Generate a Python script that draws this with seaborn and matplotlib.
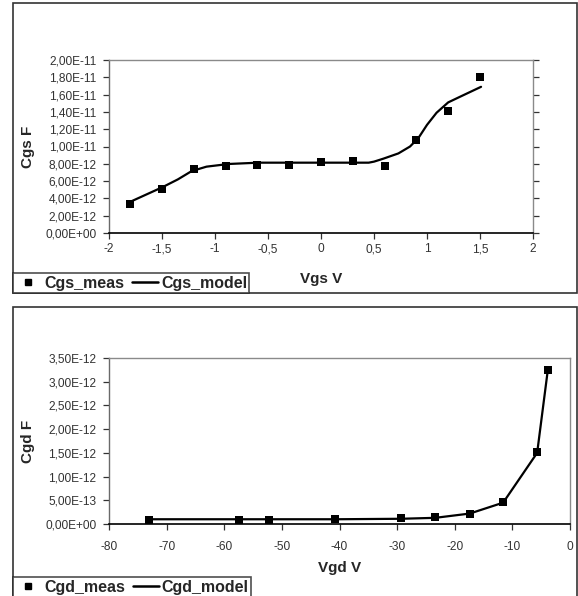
import numpy as np
import pandas as pd
import matplotlib
matplotlib.use("Agg")
import matplotlib.pyplot as plt
from matplotlib.patches import Rectangle
from matplotlib.lines import Line2D
from matplotlib.ticker import FuncFormatter
import seaborn as sns

# Cgs vs Vgs (values in pF -> scaled to F below)
vgs_meas = [-1.8, -1.5, -1.2, -0.9, -0.6, -0.3, 0.0, 0.3, 0.6, 0.9, 1.2, 1.5]
cgs_meas = [3.35, 5.1, 7.35, 7.8, 7.9, 7.9, 8.2, 8.3, 7.8, 10.7, 14.1, 18.0]
vgs_model = [-1.79, -1.49, -1.35, -1.22, -1.08, -0.87, -0.59, 0.45, 0.5, 0.59,
             0.73, 0.84, 0.92, 1.0, 1.09, 1.2, 1.32, 1.51]
cgs_model = [3.66, 5.33, 6.2, 7.16, 7.67, 7.98, 8.13, 8.13, 8.25, 8.6,
             9.2, 10.0, 11.0, 12.5, 13.9, 15.1, 15.8, 16.9]

# Cgd vs Vgd (values in pF)
vgd_meas = [-73.1, -57.4, -52.2, -40.7, -29.4, -23.4, -17.4, -11.6, -5.7, -3.9]
cgd_meas = [0.085, 0.08, 0.08, 0.10, 0.128, 0.15, 0.22, 0.47, 1.52, 3.24]
vgd_model = [-73.1, -57.4, -52.2, -40.7, -29.4, -23.4, -17.4, -11.6, -5.7, -3.9]
cgd_model = [0.10, 0.10, 0.10, 0.10, 0.11, 0.13, 0.22, 0.45, 1.50, 3.20]

FONT = "Liberation Sans"


def sci_comma(v, pos):
    s = f"{v:.2E}"
    mant, exp = s.split("E")
    e = int(exp)
    return f"{mant.replace('.', ',')}E{'+' if e >= 0 else '-'}{abs(e):02d}"


def style_axes(ax, right_ticks, xpad):
    for side in ["top", "right"]:
        ax.spines[side].set_color("#8a8a8a")
        ax.spines[side].set_linewidth(1.0)
    ax.spines["left"].set_color("#6a6a6a")
    ax.spines["bottom"].set_color("black")
    ax.spines["left"].set_linewidth(1.0)
    ax.spines["bottom"].set_linewidth(1.2)
    ax.tick_params(axis="both", direction="out", length=4, width=0.9,
                   labelsize=8.6, colors="#333333")
    ax.tick_params(axis="y", right=right_ticks, left=True, pad=5)
    ax.tick_params(axis="x", bottom=True, pad=xpad)
    for lab in ax.get_xticklabels() + ax.get_yticklabels():
        lab.set_family(FONT)
    ax.yaxis.set_major_formatter(FuncFormatter(sci_comma))
    ax.grid(False)


def draw_panel(fig, rect, xm, ym, xl, yl, xlim, xticks, ylim, ystep,
               xlabel, ylabel, xfmt, right_ticks, xpad):
    ax = fig.add_axes(rect)
    meas = pd.DataFrame({"V": xm, "C": np.array(ym) * 1e-12})
    model = pd.DataFrame({"V": xl, "C": np.array(yl) * 1e-12})
    sns.lineplot(data=model, x="V", y="C", ax=ax, color="black", linewidth=1.6)
    sns.scatterplot(data=meas, x="V", y="C", ax=ax, marker="s", color="black",
                    s=34, edgecolor="black", linewidth=0, zorder=3)
    ax.set_xlim(*xlim)
    ax.set_xticks(xticks)
    ax.xaxis.set_major_formatter(FuncFormatter(xfmt))
    ax.set_ylim(*ylim)
    ax.set_yticks(np.arange(ylim[0], ylim[1] + ystep / 2, ystep))
    style_axes(ax, right_ticks, xpad)
    ax.set_xlabel(xlabel, family=FONT, fontsize=11, fontweight="bold")
    ax.set_ylabel(ylabel, family=FONT, fontsize=11, fontweight="bold")
    ax.xaxis.label.set_va("center")
    ax.yaxis.label.set_va("center")
    handles = [
        Line2D([], [], marker="s", color="black", linestyle="none", markersize=4.5),
        Line2D([], [], color="black", linewidth=1.8),
    ]
    return ax, handles


fig = plt.figure(figsize=(5.78, 5.96), dpi=100)
sns.set_style("white")
W, H = 578.0, 596.0


def px_rect(l, t, r, b):
    return [l / W, 1 - b / H, (r - l) / W, (b - t) / H]


def fmt_top(v, pos):
    if abs(v - round(v)) < 1e-9:
        return f"{int(round(v))}"
    return f"{v:.1f}".replace(".", ",")


def fmt_bot(v, pos):
    return f"{int(round(v))}"


# outer frames of the two chart objects
for (l, t, r, b) in [(13, 3, 577, 293), (13, 307, 577, 598)]:
    fig.patches.append(Rectangle((l / W, 1 - b / H), (r - l) / W, (b - t) / H,
                                 transform=fig.transFigure, fill=False,
                                 edgecolor="#333333", linewidth=1.2))

ax1, h1 = draw_panel(fig, px_rect(109, 60, 533, 233), vgs_meas, cgs_meas,
                     vgs_model, cgs_model,
                     (-2, 2), np.arange(-2, 2.01, 0.5), (0, 2.0e-11), 2.0e-12,
                     "Vgs V", "Cgs F", fmt_top, True, 3.5)
# label centres: Vgs V at y=279 px, Cgs F at x=28 px
ax1.xaxis.set_label_coords(0.5, -(279 - 233) / 173)
ax1.yaxis.set_label_coords(-(109 - 28) / 424, 0.5)

ax2, h2 = draw_panel(fig, px_rect(109, 358, 570, 524), vgd_meas, cgd_meas,
                     vgd_model, cgd_model,
                     (-80, 0), np.arange(-80, 1, 10), (0, 3.5e-12), 5.0e-13,
                     "Vgd V", "Cgd F", fmt_bot, False, 8.5)
ax2.xaxis.set_label_coords(0.5, -(568 - 524) / 166)
ax2.yaxis.set_label_coords(-(109 - 28) / 461, 0.5)

for handles, labels, bottom_px in [(h1, ["Cgs_meas", "Cgs_model"], 293),
                                   (h2, ["Cgd_meas", "Cgd_model"], 597)]:
    leg = fig.legend(handles, labels, loc="lower left",
                     bbox_to_anchor=(13 / W, 1 - bottom_px / H), ncol=2,
                     frameon=True, fancybox=False, edgecolor="#222222",
                     borderpad=0.15, handlelength=1.6, handletextpad=0.2,
                     columnspacing=0.5, borderaxespad=0,
                     prop={"family": FONT, "size": 11.5, "weight": "bold"})
    leg.get_frame().set_linewidth(1.2)

fig.savefig("out.png", dpi=100)
